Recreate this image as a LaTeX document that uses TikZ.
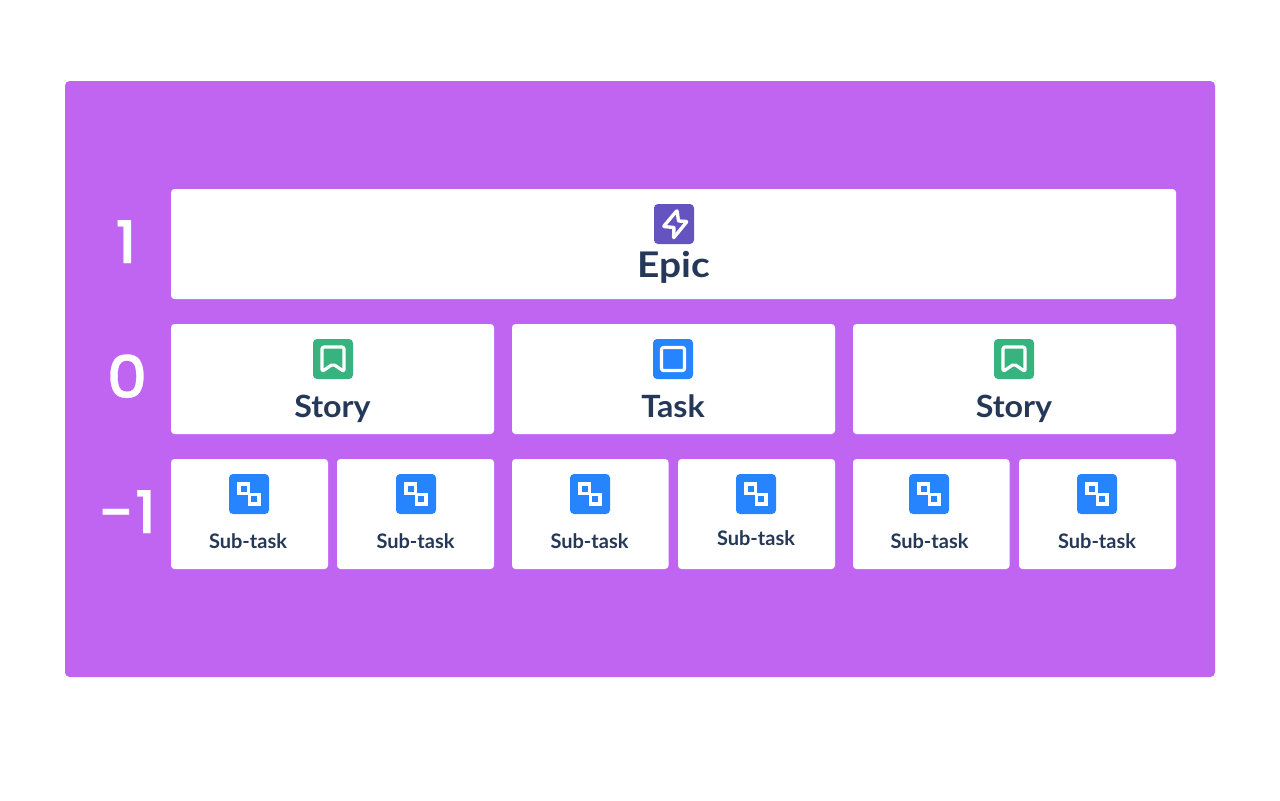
\documentclass[tikz,border=0pt]{standalone}
\usepackage{fontspec}
\setmainfont{Lato}
\newfontfamily\digitfont[FakeStretch=1.08,FakeBold=0.5]{Poppins Medium}
\newfontfamily\epicfont[FakeStretch=1.1]{Lato Bold}
\newfontfamily\storyfont[FakeStretch=1.05]{Lato Bold}
\newfontfamily\subfont{Lato Bold}
\begin{document}
\begin{tikzpicture}[x=0.75pt,y=-0.75pt]
\definecolor{bgpurple}{HTML}{C065F2}
\definecolor{epicpurple}{HTML}{6554C0}
\definecolor{storygreen}{HTML}{36B37E}
\definecolor{taskblue}{HTML}{2684FF}
\definecolor{ink}{HTML}{253858}
\tikzset{
  panel/.style={fill=bgpurple,rounded corners=3.5pt,draw=none},
  card/.style={fill=white,rounded corners=2.6pt,draw=none},
  iconbox/.style={rounded corners=3pt,draw=none},
  glyph/.style={draw=white,line width=2.4pt,line join=round,rounded corners=1.5pt},
  bolt/.style={draw=white,line width=2.5pt,line join=round,rounded corners=0.4pt},
  glyphthin/.style={draw=white,line width=2.6pt,line join=miter},
  level/.style={text=white,font=\fontsize{44}{44}\digitfont,anchor=base,inner sep=0pt},
  epiclabel/.style={text=ink,font=\fontsize{26.5}{27}\epicfont,anchor=base,inner sep=0pt},
  big/.style={text=ink,font=\fontsize{23}{24}\storyfont,anchor=base,inner sep=0pt},
  small/.style={text=ink,font=\fontsize{15}{15}\subfont,anchor=base,inner sep=0pt},
}
\newcommand{\epicicon}[2]{\begin{scope}[shift={(#1,#2)}]
  \fill[epicpurple,iconbox] (0,0) rectangle (40,40);
  \draw[bolt] (23,6.5) -- (9.5,22.5) -- (20,23.5) -- (19.5,34) -- (33,17.5) -- (24.5,17) -- cycle;
\end{scope}}
\newcommand{\storyicon}[2]{\begin{scope}[shift={(#1,#2)}]
  \fill[storygreen,iconbox] (0,0) rectangle (40,40);
  \draw[glyph] (9,8) -- (31,8) -- (31,32.5) -- (20,25) -- (9,32.5) -- cycle;
\end{scope}}
\newcommand{\taskicon}[2]{\begin{scope}[shift={(#1,#2)}]
  \fill[taskblue,iconbox] (0,0) rectangle (40,40);
  \draw[glyph] (8.5,8.5) rectangle (31.5,31.5);
\end{scope}}
\newcommand{\subicon}[2]{\begin{scope}[shift={(#1,#2)}]
  \fill[taskblue,iconbox] (0,0) rectangle (40,40);
  \draw[glyphthin] (10,10) rectangle (19.5,19.5);
  \draw[glyphthin] (20.5,20.5) rectangle (30,30);
\end{scope}}
\useasboundingbox (0,0) rectangle (1280,800);
\fill[white] (0,0) rectangle (1280,800);
\fill[panel] (65,81) rectangle (1215,677);
\node[level] (lone) at (126,263) {1};
\node[level] (lzero) at (127,398) {0};
\node[level] (lminus) at (127,533) {-1};
\fill[card] (171,189) rectangle (1176,299);
\fill[card] (171,324) rectangle (494,434);
\fill[card] (512,324) rectangle (835,434);
\fill[card] (853,324) rectangle (1176,434);
\fill[card] (171,459) rectangle (328,569);
\fill[card] (337,459) rectangle (494,569);
\fill[card] (512,459) rectangle (668.5,569);
\fill[card] (678,459) rectangle (835,569);
\fill[card] (853,459) rectangle (1009.5,569);
\fill[card] (1019,459) rectangle (1176,569);
\epicicon{654}{204}
\storyicon{313}{339}
\taskicon{653}{339}
\storyicon{994}{339}
\subicon{229}{474}
\subicon{396}{474}
\subicon{570}{474}
\subicon{736}{474}
\subicon{909}{474}
\subicon{1077}{474}
\node[epiclabel] (epic) at (674,277.5) {Epic};
\node[big] (story1) at (332.5,417.5) {Story};
\node[big] (task) at (673,417.5) {Task};
\node[big] (story2) at (1014,417.5) {Story};
\node[small] (s1) at (248,548) {Sub-task};
\node[small] (s2) at (415.5,548) {Sub-task};
\node[small] (s3) at (589.5,548) {Sub-task};
\node[small] (s4) at (756,545) {Sub-task};
\node[small] (s5) at (929.5,548) {Sub-task};
\node[small] (s6) at (1097,548) {Sub-task};
\end{tikzpicture}
\end{document}
